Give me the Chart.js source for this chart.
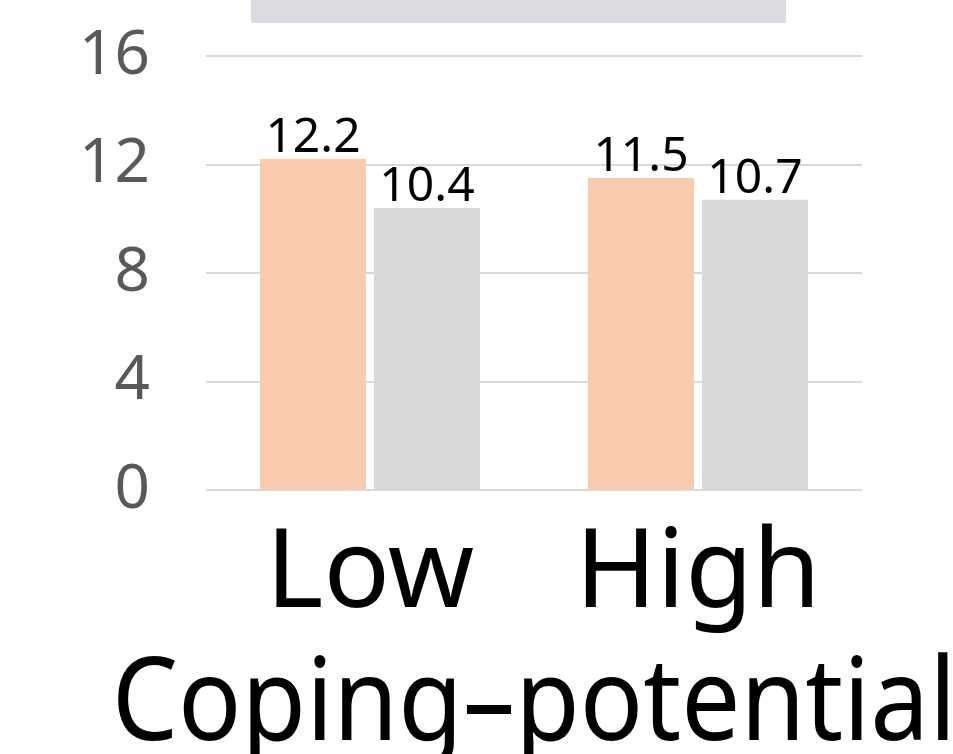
<!DOCTYPE html>
<html>
<head>
<meta charset="utf-8">
<script src="https://cdn.jsdelivr.net/npm/chart.js@4.4.1/dist/chart.umd.min.js"></script>
<style>
  html, body { margin: 0; padding: 0; background: #ffffff; overflow: hidden; width: 953px; height: 754px; }
  #wrap { position: relative; width: 953px; height: 800px; }
  #band { position: absolute; left: 251px; top: 0; width: 535px; height: 23px; background: #dcd9e0; }
  canvas { position: absolute; left: 0; top: 0; }
</style>
</head>
<body>
<div id="wrap">
  <canvas id="c" width="953" height="800"></canvas>
  <div id="band"></div>
</div>
<script>
const categories = ["Low", "High"];
const seriesOrange = [12.2, 11.5];
const seriesGray = [10.4, 10.7];
const yTicks = [0, 4, 8, 12, 16];
const axisTitle = "Coping–potential";

const FONT = "'Noto Sans', 'Open Sans', sans-serif";

// Value labels above each bar, placed from the bar element geometry
const valueLabels = {
  id: 'valueLabels',
  afterDatasetsDraw(chart) {
    const ctx = chart.ctx;
    ctx.save();
    ctx.font = `48px ${FONT}`;
    ctx.fillStyle = '#000000';
    ctx.textAlign = 'center';
    ctx.textBaseline = 'alphabetic';
    chart.data.datasets.forEach((ds, di) => {
      chart.getDatasetMeta(di).data.forEach((bar, i) => {
        ctx.fillText(ds.data[i].toFixed(1), bar.x, bar.y - 7);
      });
    });
    ctx.restore();
  }
};

// Large x-axis title, drawn at full width under the category labels
// (slightly tall glyph proportions)
const wideAxisTitle = {
  id: 'wideAxisTitle',
  afterDraw(chart) {
    const ctx = chart.ctx;
    const area = chart.chartArea;
    ctx.save();
    ctx.font = `105px ${FONT}`;
    ctx.fillStyle = '#000000';
    ctx.textAlign = 'center';
    ctx.textBaseline = 'alphabetic';
    ctx.translate((area.left + area.right) / 2, area.bottom + 250);
    ctx.scale(1, 1.1);
    ctx.fillText(axisTitle, 0, 0);
    ctx.restore();
  }
};

new Chart(document.getElementById('c'), {
  type: 'bar',
  data: {
    labels: categories,
    datasets: [
      { data: seriesOrange, backgroundColor: '#f8cbad', borderWidth: 0 },
      { data: seriesGray, backgroundColor: '#d9d9d9', borderWidth: 0 }
    ]
  },
  options: {
    responsive: false,
    animation: false,
    devicePixelRatio: 1,
    layout: { padding: { top: 56, right: 91, left: 0, bottom: 0 } },
    plugins: { legend: { display: false }, tooltip: { enabled: false } },
    datasets: { bar: { categoryPercentage: 0.695, barPercentage: 0.93 } },
    scales: {
      y: {
        min: 0,
        max: 16,
        afterFit(scale) {
          scale.width = 206;
          scale.paddingTop = 0;
          scale.paddingBottom = 0;
        },
        afterBuildTicks(scale) { scale.ticks = yTicks.map(v => ({ value: v })); },
        grid: { color: '#d9d9d9', lineWidth: 2, drawTicks: false },
        border: { display: false },
        ticks: {
          padding: 56,
          color: '#595959',
          font: { family: FONT, size: 62 }
        }
      },
      x: {
        afterFit(scale) { scale.height = 800 - 490; },
        grid: { display: false },
        border: { display: false },
        ticks: {
          padding: 12,
          color: '#000000',
          font: { family: FONT, size: 110 }
        }
      }
    }
  },
  plugins: [valueLabels, wideAxisTitle]
});
</script>
</body>
</html>
